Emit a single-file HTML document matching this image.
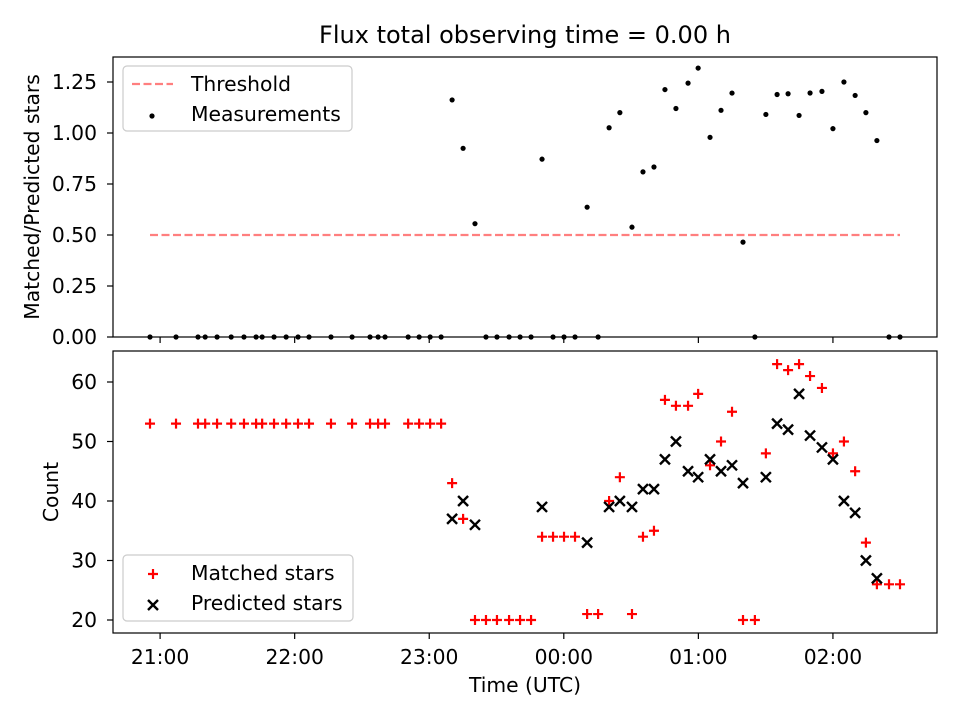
<!DOCTYPE html>
<html><head><meta charset="utf-8"><style>
body{margin:0;background:#fff;}
svg{display:block;font-family:"DejaVu Sans","Liberation Sans",sans-serif;}
</style></head><body>
<svg id="chart" width="960" height="720" viewBox="0 0 960 720">
<rect width="960" height="720" fill="#fff"/>
<text x="525" y="43" font-size="24" text-anchor="middle">Flux total observing time = 0.00 h</text>
<g id="topG"></g><g id="botG"></g>
</svg>
<script>
// minutes after 21:00 UTC
const times=[-4.5,7.1,16.9,20.1,25.4,31.7,37.4,42.8,45.5,50.8,56.2,61.5,66.4,76.2,85.6,93.6,97.2,100.3,110.6,115.5,120.4,125.3,130.2,135.1,140.4,145.3,150.2,155.6,160.5,165.4,170.3,175.2,180.1,185,190.4,195.3,200.2,205,210.4,215.3,220.2,225.1,230,235.4,239.9,245.2,250.1,255,259.9,265.2,270.1,275.1,280,284.9,289.8,295.1,300,304.9,309.9,314.7,319.6,325,329.9];
const matched=[53,53,53,53,53,53,53,53,53,53,53,53,53,53,53,53,53,53,53,53,53,53,43,37,20,20,20,20,20,20,34,34,34,34,21,21,40,44,21,34,35,57,56,56,58,46,50,55,20,20,48,63,62,63,61,59,48,50,45,33,26,26,26];
const predicted=[null,null,null,null,null,null,null,null,null,null,null,null,null,null,null,null,null,null,null,null,null,null,37,40,36,null,null,null,null,null,39,null,null,null,33,null,39,40,39,42,42,47,50,45,44,47,45,46,43,null,44,53,52,58,51,49,47,40,38,30,27,null,null];
const xTickLabels=["21:00","22:00","23:00","00:00","01:00","02:00"];
const xTickMinutes=[0,60,120,180,240,300];
const topTicks=[0,0.25,0.5,0.75,1.0,1.25];
const botTicks=[20,30,40,50,60];
const threshold=0.5;

const NS="http://www.w3.org/2000/svg";
const L=113,R=937;
const FS=20.3;
const X=m=>L+(m+21)*(R-L)/367.4;
const Yt=v=>337-v*204;
const Yb=v=>620-(v-20)*5.95;
function el(tag,attrs,parent,txt){const e=document.createElementNS(NS,tag);for(const k in attrs)e.setAttribute(k,attrs[k]);if(txt!==undefined)e.textContent=txt;parent.appendChild(e);return e;}
const topG=document.getElementById('topG'),botG=document.getElementById('botG');

const ra=times.map((t,i)=>predicted[i]?matched[i]/predicted[i]:0);
let g=el('g',{},topG);


el('line',{x1:X(times[0]),x2:X(times[times.length-1]),y1:Yt(threshold),y2:Yt(threshold),stroke:'#ff0000','stroke-opacity':0.5,'stroke-width':2.2,'stroke-dasharray':'8,3.5'},g);
times.forEach((t,i)=>{const c=el('circle',{cx:X(t),cy:Yt(ra[i]),r:2.6,fill:'#000'},topG);

});
const tf=el('rect',{x:L,y:57,width:R-L,height:280,fill:'none',stroke:'#000','stroke-width':1.2},topG);


topTicks.forEach(v=>{el('line',{x1:L-6,x2:L,y1:Yt(v),y2:Yt(v),stroke:'#000','stroke-width':1.2},topG);
const t=el('text',{x:L-16,y:Yt(v)+7,'font-size':FS,'text-anchor':'end'},topG,v.toFixed(2));

});
xTickMinutes.forEach(m=>el('line',{x1:X(m),x2:X(m),y1:337,y2:343,stroke:'#000','stroke-width':1.2},topG));
const yt=el('text',{x:39,y:197,'font-size':FS,'text-anchor':'middle',transform:'rotate(-90 39 197)'},topG,'Matched/Predicted stars');


const lg=el('g',{},topG);


el('rect',{x:123,y:66,width:229,height:65,rx:4,fill:'#fff','fill-opacity':0.8,stroke:'#ccc','stroke-width':1.2},lg);
el('line',{x1:132,x2:173,y1:84,y2:84,stroke:'#ff0000','stroke-opacity':0.5,'stroke-width':2.2,'stroke-dasharray':'8,3.5'},lg);
el('text',{x:191,y:91,'font-size':FS},lg,'Threshold');
el('circle',{cx:152,cy:116,r:2.6,fill:'#000'},lg);
el('text',{x:191,y:121,'font-size':FS},lg,'Measurements');

times.forEach((t,i)=>{const x=X(t),y=Yb(matched[i]);
const p=el('path',{d:`M${x-5},${y}H${x+5}M${x},${y-5}V${y+5}`,stroke:'#ff0000','stroke-width':2.2},botG);

});
times.forEach((t,i)=>{if(predicted[i]==null)return;const x=X(t),y=Yb(predicted[i]);
const p=el('path',{d:`M${x-5},${y-5}L${x+5},${y+5}M${x-5},${y+5}L${x+5},${y-5}`,stroke:'#000','stroke-width':2.4},botG);

});
const bf=el('rect',{x:L,y:351,width:R-L,height:282,fill:'none',stroke:'#000','stroke-width':1.2},botG);


botTicks.forEach(v=>{el('line',{x1:L-6,x2:L,y1:Yb(v),y2:Yb(v),stroke:'#000','stroke-width':1.2},botG);
const t=el('text',{x:L-16,y:Yb(v)+7,'font-size':FS,'text-anchor':'end'},botG,String(v));

});
xTickMinutes.forEach((m,i)=>{el('line',{x1:X(m),x2:X(m),y1:633,y2:639,stroke:'#000','stroke-width':1.2},botG);
const t=el('text',{x:X(m),y:664,'font-size':FS,'text-anchor':'middle'},botG,xTickLabels[i]);

});
const by=el('text',{x:58,y:492,'font-size':FS,'text-anchor':'middle',transform:'rotate(-90 58 492)'},botG,'Count');


const xt=el('text',{x:525,y:692,'font-size':FS,'text-anchor':'middle'},botG,'Time (UTC)');


const lb=el('g',{},botG);


el('rect',{x:123,y:555,width:230,height:66,rx:4,fill:'#fff','fill-opacity':0.8,stroke:'#ccc','stroke-width':1.2},lb);
el('path',{d:'M148,574H158M153,569V579',stroke:'#ff0000','stroke-width':2.2},lb);
el('text',{x:191,y:580,'font-size':FS},lb,'Matched stars');
el('path',{d:'M148,600L158,610M148,610L158,600',stroke:'#000','stroke-width':2.4},lb);
el('text',{x:191,y:610,'font-size':FS},lb,'Predicted stars');
</script>
</body></html>
